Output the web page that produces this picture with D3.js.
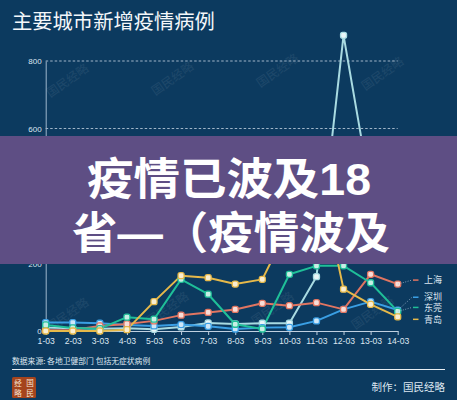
<!DOCTYPE html>
<html><head><meta charset="utf-8">
<script src="https://cdn.jsdelivr.net/npm/d3@7"></script>
<style>
html,body{margin:0;padding:0;background:#0c3a5f;}
svg{display:block;font-family:"Noto Sans CJK SC","Noto Sans",sans-serif;}
</style></head>
<body>
<script>
const dates = ["1-03","2-03","3-03","4-03","5-03","6-03","7-03","8-03","9-03","10-03","11-03","12-03","13-03","14-03"];
const seriesNames = ["长春","深圳","上海","东莞","青岛"];
const seriesColors = ["#a9dbe2","#3a9fe4","#e07561","#1fbf98","#e6b94a"];
const changchun = [10,8,7,8,5,12,24,21,23,23,161,876,413,320];
const shenzhen = [25,25,23,18,15,19,14,6,10,11,30,64,87,62];
const shanghai = [2,3,15,21,30,47,55,64,82,75,84,64,168,139];
const dongguan = [18,9,7,41,35,153,109,20,6,168,193,193,143,58];
const qingdao = [0,0,0,4,87,164,158,139,153,315,500,124,79,42];
const seriesValues = [changchun, shenzhen, shanghai, dongguan, qingdao];
const yTicks = [0,200,400,600,800];
const titleText = "主要城市新增疫情病例";
const bannerLines = ["疫情已波及18","省—（疫情波及"];
const sourceText = "数据来源: 各地卫健部门 包括无症状病例";
const creditText = "制作：国民经略";

const W = 457, H = 400;
const svg = d3.select("body").append("svg").attr("width", W).attr("height", H);
svg.append("rect").attr("width", W).attr("height", H).attr("fill", "#0c3a5f");

const x = d3.scalePoint().domain(dates).range([45.7, 397.7]);
const y = d3.scaleLinear().domain([0, 800]).range([331, 61]);
const light = "#dce6f0";
const tightFont = '"Liberation Sans","Noto Sans CJK SC",sans-serif';

// title
svg.append("text").attr("x", 12).attr("y", 29).attr("fill", "#f4f7fa")
  .attr("font-size", 20.3).text(titleText);

// watermarks
const wm = [[70,84],[175,82],[280,74],[385,77],[70,318],[170,312],[275,312],[375,316]];
wm.forEach(p => svg.append("text").attr("transform", `translate(${p[0]},${p[1]}) rotate(-35)`)
  .attr("text-anchor","middle").attr("font-size", 12).attr("fill", "#ffffff").attr("opacity", 0.07)
  .text("国民经略"));

// grid
svg.append("g").selectAll("line").data(yTicks.filter(t => t > 0)).join("line")
  .attr("x1", 45.7).attr("x2", 397.7).attr("y1", d => y(d)).attr("y2", d => y(d))
  .attr("stroke", "#c8d6e4").attr("stroke-width", 0.8).attr("stroke-dasharray", "2.5,2");

// y axis
const ya = svg.append("g").attr("transform", "translate(45.7,0)")
  .call(d3.axisLeft(y).tickValues(yTicks).tickSize(0).tickPadding(4));
ya.select(".domain").attr("stroke", "#9fb6cc").attr("stroke-width", 1);
ya.selectAll("text").attr("fill", light).attr("font-size", 8).attr("font-family", "Liberation Sans, Arial, sans-serif");

// x axis
const xa = svg.append("g").attr("transform", "translate(0,331)")
  .call(d3.axisBottom(x).tickSize(4).tickSizeOuter(0).tickPadding(3));
xa.select(".domain").attr("stroke", "#c0d0e0").attr("stroke-width", 1);
xa.selectAll(".tick line").attr("stroke", "#c0d0e0");
xa.selectAll("text").attr("fill", light).attr("font-size", 8.6).attr("font-family", "Liberation Sans, Arial, sans-serif");

// lines
const line = d3.line().x((d, i) => x(dates[i])).y(d => y(d));
seriesValues.forEach((vals, si) => {
  const c = seriesColors[si];
  svg.append("path").datum(vals).attr("d", line).attr("fill", "none")
    .attr("stroke", c).attr("stroke-width", 2).attr("stroke-linejoin", "round");
});
seriesValues.forEach((vals, si) => {
  const c = seriesColors[si];
  svg.append("g").selectAll("rect").data(vals).join("rect")
    .attr("x", (d, i) => x(dates[i]) - 3).attr("y", d => y(d) - 3)
    .attr("width", 6).attr("height", 6).attr("rx", 2)
    .attr("fill", d3.interpolateRgb(c, "#ffffff")(0.75))
    .attr("stroke", c).attr("stroke-width", 1.3);
});

// end labels
const ends = seriesValues.map((v, i) => ({i, ey: y(v[v.length - 1]), name: seriesNames[i], c: seriesColors[i]}));
ends.sort((a, b) => a.ey - b.ey);
for (let k = ends.length - 1; k >= 0; k--) {
  if (k === ends.length - 1) ends[k].ly = ends[k].ey + 2.5;
  else ends[k].ly = Math.min(ends[k].ey - 4, ends[k + 1].ly - 10.2);
}
ends.forEach(e => {
  if (Math.abs(e.ly - e.ey) > 3) {
    svg.append("line").attr("x1", 398).attr("y1", e.ey).attr("x2", 412).attr("y2", e.ly)
      .attr("stroke", "#b0c4d8").attr("stroke-width", 0.7).attr("stroke-dasharray", "1,1.5");
  }
  svg.append("line").attr("x1", 413).attr("x2", 418.5).attr("y1", e.ly).attr("y2", e.ly)
    .attr("stroke", e.c).attr("stroke-width", 1.5);
  svg.append("text").attr("x", 424).attr("y", e.ly).attr("dy", "0.36em")
    .attr("font-family", tightFont)
    .attr("fill", light).attr("font-size", 9).text(e.name);
});

// banner overlay
const bannerX = [87, 72], bannerLen = [284, 318];
svg.append("rect").attr("x", 0).attr("y", 136).attr("width", W).attr("height", 128).attr("fill", "#5e4e84");
svg.append("g").selectAll("text").data(bannerLines).join("text")
  .attr("x", (d, i) => bannerX[i]).attr("y", (d, i) => 195 + i * 54)
  .attr("textLength", (d, i) => bannerLen[i]).attr("lengthAdjust", "spacingAndGlyphs")
  .attr("font-family", tightFont)
  .attr("fill", "#ffffff").attr("font-size", 44).attr("font-weight", 700).text(d => d);

// footer
svg.append("text").attr("x", 12).attr("y", 364).attr("fill", light).attr("font-size", 7.8).text(sourceText);
svg.append("line").attr("x1", 12).attr("x2", 445).attr("y1", 369.5).attr("y2", 369.5)
  .attr("stroke", "#e8eef4").attr("stroke-width", 1);
svg.append("rect").attr("x", 12).attr("y", 377).attr("width", 24).attr("height", 21).attr("rx", 1.5).attr("fill", "#a4441d");
[["经",18,385.5],["国",30,385.5],["略",18,395.5],["民",30,395.5]].forEach(t =>
  svg.append("text").attr("x", t[1]).attr("y", t[2]).attr("text-anchor","middle")
    .attr("fill", "#f6e6d6").attr("font-size", 7.5).text(t[0]));
svg.append("text").attr("x", 445).attr("y", 391).attr("text-anchor", "end")
  .attr("fill", light).attr("font-size", 10.5).text(creditText);
</script>
</body></html>
